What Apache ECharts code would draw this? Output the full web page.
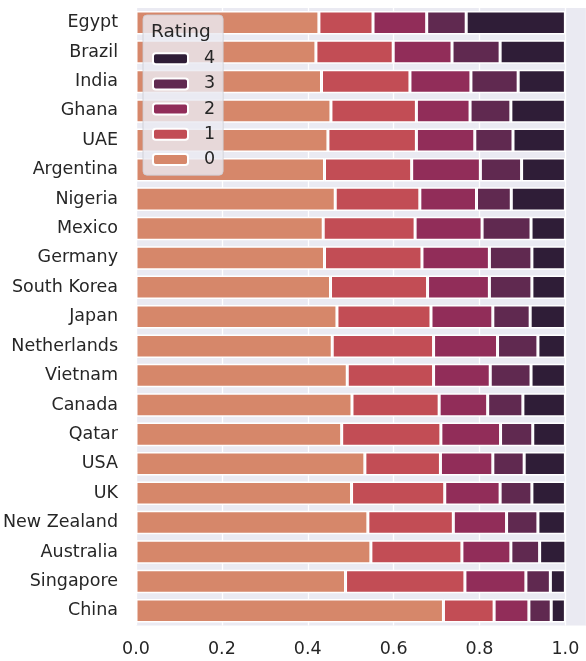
<!DOCTYPE html>
<html>
<head>
<meta charset="utf-8">
<script src="https://cdn.jsdelivr.net/npm/echarts@6/dist/echarts.min.js"></script>
<style>
html,body{margin:0;padding:0;background:#fff;}
#chart{width:586px;height:661px;}
</style>
</head>
<body>
<div id="chart"></div>
<script>
const countries = ["Egypt","Brazil","India","Ghana","UAE","Argentina","Nigeria","Mexico","Germany","South Korea","Japan","Netherlands","Vietnam","Canada","Qatar","USA","UK","New Zealand","Australia","Singapore","China"];
const ratingNames = ["0","1","2","3","4"];
const rating0 = [0.426,0.419,0.432,0.454,0.447,0.439,0.464,0.436,0.439,0.453,0.468,0.457,0.492,0.503,0.479,0.533,0.502,0.540,0.547,0.488,0.716];
const rating1 = [0.126,0.180,0.206,0.199,0.206,0.203,0.197,0.214,0.227,0.226,0.219,0.236,0.201,0.203,0.231,0.176,0.217,0.199,0.212,0.278,0.118];
const rating2 = [0.125,0.137,0.142,0.125,0.136,0.160,0.132,0.156,0.157,0.144,0.144,0.149,0.132,0.113,0.139,0.122,0.129,0.124,0.114,0.142,0.081];
const rating3 = [0.092,0.112,0.110,0.095,0.089,0.096,0.081,0.114,0.099,0.099,0.087,0.094,0.095,0.082,0.075,0.073,0.074,0.073,0.067,0.057,0.052];
const rating4 = [0.231,0.152,0.110,0.127,0.122,0.102,0.126,0.080,0.078,0.078,0.082,0.064,0.080,0.099,0.076,0.096,0.078,0.064,0.061,0.035,0.033];
const xTicks = [0, 0.2, 0.4, 0.6, 0.8, 1.0];
const colors = ["#D6876A","#C24D55","#912D59","#602950","#2F1D37"];

const seriesValues = [rating0, rating1, rating2, rating3, rating4];
const FONT = "DejaVu Sans";
const chart = echarts.init(document.getElementById('chart'));
chart.setOption({
  animation: false,
  backgroundColor: '#ffffff',
  grid: {left: 136, right: 0, top: 8, bottom: 35.5, show: true, backgroundColor: '#EAEAF2', borderWidth: 0},
  xAxis: {
    type: 'value', min: 0, max: 1.048, interval: 0.2,
    axisLine: {show: false}, axisTick: {show: false},
    splitLine: {show: true, lineStyle: {color: '#ffffff', width: 1.3}},
    axisLabel: {
      fontFamily: FONT, fontSize: 17.5, color: '#262626', margin: 15,
      showMaxLabel: false,
      formatter: function (v) { return xTicks.some(t => Math.abs(t - v) < 1e-6) ? v.toFixed(1) : ''; }
    }
  },
  yAxis: {
    type: 'category', data: countries, inverse: true,
    axisLine: {show: false}, axisTick: {show: false}, splitLine: {show: false},
    axisLabel: {fontFamily: FONT, fontSize: 17.5, color: '#262626', margin: 18}
  },
  legend: {
    data: ["4","3","2","1","0"],
    orient: 'vertical', left: 143, top: 15,
    padding: [33.7, 8, 5.7, 9],
    itemWidth: 35, itemHeight: 11, itemGap: 5.2,
    backgroundColor: 'rgba(234,234,242,0.82)',
    borderColor: 'rgba(204,204,210,0.8)', borderWidth: 1, borderRadius: 4,
    textStyle: {fontFamily: FONT, fontSize: 17.5, color: '#262626', lineHeight: 20, padding: [0,0,0,11]},
    selectedMode: false
  },
  graphic: [{
    type: 'text', z: 100, left: 151, top: 23,
    style: {text: 'Rating', fontFamily: FONT, fontSize: 18.5, fill: '#262626'}
  }],
  series: seriesValues.map((vals, i) => ({
    name: ratingNames[i], type: 'bar', stack: 'total', barWidth: '80%',
    data: vals,
    itemStyle: {color: colors[i], borderColor: '#ffffff', borderWidth: 1.5}
  }))
});
</script>
</body>
</html>
